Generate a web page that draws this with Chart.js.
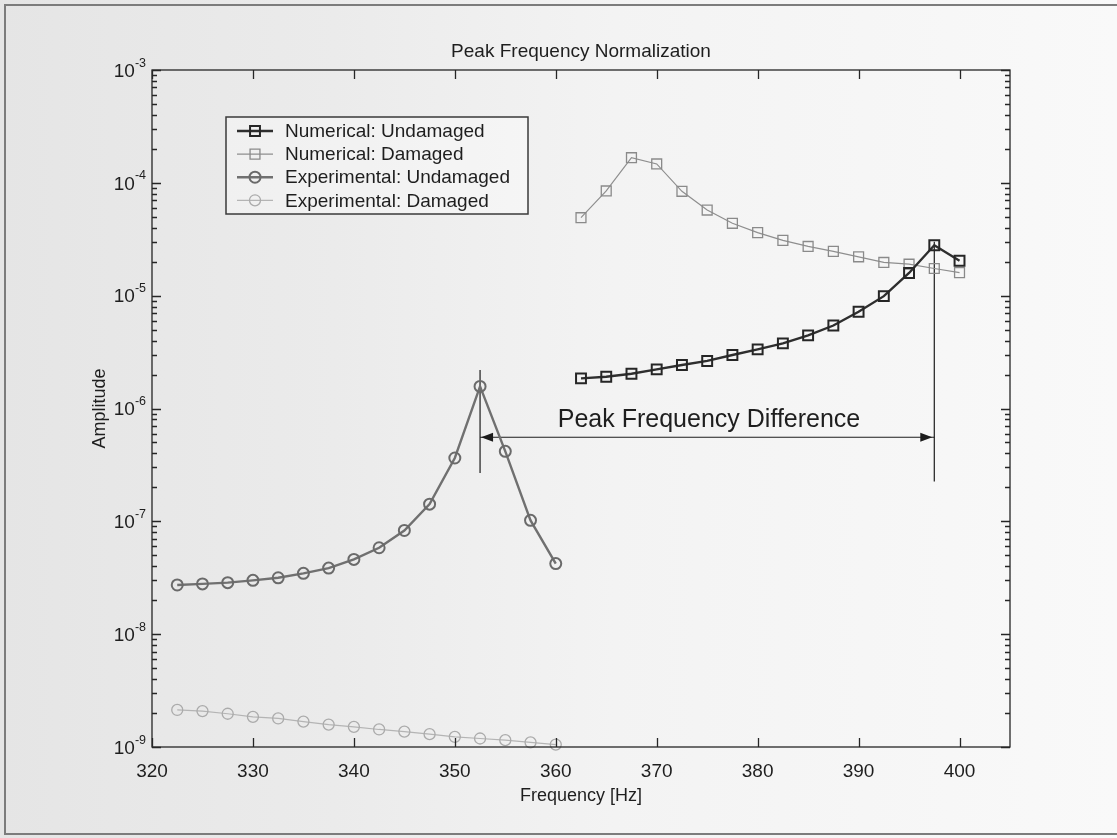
<!DOCTYPE html>
<html>
<head>
<meta charset="utf-8">
<script src="https://cdn.jsdelivr.net/npm/chart.js@4.4.1/dist/chart.umd.min.js"></script>
<style>
  html, body { margin: 0; padding: 0; }
  body {
    width: 1117px; height: 838px; overflow: hidden;
    background: linear-gradient(to right, #e5e5e5 0%, #ebebeb 30%, #f3f3f3 55%, #f9f9f9 100%);
  }
  canvas { display: block; }
</style>
</head>
<body>
<canvas id="c" width="1117" height="838"></canvas>
<script>
// Frequencies of the sampled points [Hz]
const expFreq = [322.5, 325, 327.5, 330, 332.5, 335, 337.5, 340, 342.5, 345, 347.5, 350, 352.5, 355, 357.5, 360];
const numFreq = [362.5, 365, 367.5, 370, 372.5, 375, 377.5, 380, 382.5, 385, 387.5, 390, 392.5, 395, 397.5, 400];

// Amplitudes
const numUndamaged = [1.85e-6, 1.91e-6, 2.03e-6, 2.22e-6, 2.43e-6, 2.64e-6, 2.98e-6, 3.34e-6, 3.78e-6, 4.45e-6, 5.44e-6, 7.21e-6, 9.9e-6, 1.59e-5, 2.8e-5, 2.04e-5];
const numDamaged   = [4.91e-5, 8.47e-5, 1.67e-4, 1.47e-4, 8.41e-5, 5.74e-5, 4.38e-5, 3.62e-5, 3.09e-5, 2.73e-5, 2.47e-5, 2.21e-5, 1.97e-5, 1.9e-5, 1.74e-5, 1.6e-5];
const expUndamaged = [2.73e-8, 2.79e-8, 2.86e-8, 3.0e-8, 3.16e-8, 3.46e-8, 3.85e-8, 4.6e-8, 5.83e-8, 8.3e-8, 1.42e-7, 3.64e-7, 1.57e-6, 4.17e-7, 1.02e-7, 4.22e-8];
const expDamaged   = [2.13e-9, 2.08e-9, 1.97e-9, 1.85e-9, 1.79e-9, 1.68e-9, 1.58e-9, 1.51e-9, 1.43e-9, 1.37e-9, 1.30e-9, 1.23e-9, 1.19e-9, 1.15e-9, 1.10e-9, 1.05e-9];

// Axis ticks
const xTickValues = [320, 330, 340, 350, 360, 370, 380, 390, 400];
const yDecades = [-9, -8, -7, -6, -5, -4, -3];

// Peak markers and the difference arrow (data units)
const peakFreqs = [352.5, 397.5];
const peakTops = [2.19e-6, 3.0e-5];
const peakBottoms = [2.68e-7, 2.25e-7];
const arrowLevel = 5.56e-7;
const noteText = 'Peak Frequency Difference';
const noteFreq = 360.2;
const noteAmp = 6.9e-7;

const FONT = '"Liberation Sans", Arial, Helvetica, sans-serif';
const pts = (xs, ys) => xs.map((x, i) => ({ x: x, y: ys[i] }));

const series = [
  { label: 'Numerical: Undamaged', data: pts(numFreq, numUndamaged), borderColor: '#2e2e2e', borderWidth: 2.4,
    pointStyle: 'rect', pointRadius: 7, pointBorderWidth: 2, pointBorderColor: '#262626' },
  { label: 'Numerical: Damaged', data: pts(numFreq, numDamaged), borderColor: '#8e8e8e', borderWidth: 1.2,
    pointStyle: 'rect', pointRadius: 7, pointBorderWidth: 1.3, pointBorderColor: '#8a8a8a' },
  { label: 'Experimental: Undamaged', data: pts(expFreq, expUndamaged), borderColor: '#707070', borderWidth: 2.4,
    pointStyle: 'circle', pointRadius: 5.5, pointBorderWidth: 2, pointBorderColor: '#6a6a6a' },
  { label: 'Experimental: Damaged', data: pts(expFreq, expDamaged), borderColor: '#b4b4b4', borderWidth: 1.2,
    pointStyle: 'circle', pointRadius: 5.5, pointBorderWidth: 1.3, pointBorderColor: '#ababab' }
].map(d => Object.assign(d, { pointBackgroundColor: 'rgba(0,0,0,0)', fill: false, clip: false, tension: 0 }));

const guides = [
  { label: '', data: [{ x: peakFreqs[0], y: peakTops[0] }, { x: peakFreqs[0], y: peakBottoms[0] }] },
  { label: '', data: [{ x: peakFreqs[1], y: peakTops[1] }, { x: peakFreqs[1], y: peakBottoms[1] }] },
  { label: '', data: [{ x: peakFreqs[0], y: arrowLevel }, { x: peakFreqs[1], y: arrowLevel }] }
].map(d => Object.assign(d, { borderColor: '#1c1c1c', borderWidth: 1.2, pointRadius: 0, fill: false, clip: false, guide: true }));

function drawMarker(ctx, style, cx, cy, r, color, lw) {
  ctx.strokeStyle = color;
  ctx.lineWidth = lw;
  ctx.beginPath();
  if (style === 'rect') {
    const s = Math.SQRT1_2 * r;
    ctx.rect(cx - s, cy - s, 2 * s, 2 * s);
  } else {
    ctx.arc(cx, cy, r, 0, Math.PI * 2);
  }
  ctx.stroke();
}

const decor = {
  id: 'decor',
  beforeDraw(chart) {
    const ctx = chart.ctx;
    ctx.save();
    ctx.strokeStyle = '#7c7c7c';
    ctx.lineWidth = 2;
    ctx.strokeRect(5, 5, 1140, 829);
    ctx.restore();
  },
  afterDraw(chart) {
    const ctx = chart.ctx;
    const a = chart.chartArea;
    const x = chart.scales.x, y = chart.scales.y;
    ctx.save();

    // axes box
    ctx.strokeStyle = '#262626';
    ctx.lineWidth = 1.3;
    ctx.strokeRect(a.left, a.top, a.right - a.left, a.bottom - a.top);

    // inward tick marks
    ctx.beginPath();
    xTickValues.forEach(v => {
      const px = Math.round(x.getPixelForValue(v)) + 0.5;
      ctx.moveTo(px, a.bottom); ctx.lineTo(px, a.bottom - 9);
      ctx.moveTo(px, a.top); ctx.lineTo(px, a.top + 9);
    });
    yDecades.forEach((e, i) => {
      const py = Math.round(y.getPixelForValue(Math.pow(10, e))) + 0.5;
      ctx.moveTo(a.left, py); ctx.lineTo(a.left + 9, py);
      ctx.moveTo(a.right, py); ctx.lineTo(a.right - 9, py);
      if (i < yDecades.length - 1) {
        for (let k = 2; k <= 9; k++) {
          const pm = Math.round(y.getPixelForValue(k * Math.pow(10, e))) + 0.5;
          ctx.moveTo(a.left, pm); ctx.lineTo(a.left + 5, pm);
          ctx.moveTo(a.right, pm); ctx.lineTo(a.right - 5, pm);
        }
      }
    });
    ctx.stroke();

    // y tick labels: 10 with superscript exponent
    ctx.fillStyle = '#1e1e1e';
    ctx.textAlign = 'left';
    ctx.textBaseline = 'alphabetic';
    yDecades.forEach(e => {
      const py = y.getPixelForValue(Math.pow(10, e));
      const sup = String(e);
      ctx.font = '12.5px ' + FONT;
      const supW = ctx.measureText(sup).width;
      ctx.font = '19px ' + FONT;
      const baseW = ctx.measureText('10').width;
      const right = a.left - 6;
      ctx.fillText('10', right - supW - baseW, py + 6.8);
      ctx.font = '12.5px ' + FONT;
      ctx.fillText(sup, right - supW, py - 3.5);
    });

    // axis titles
    ctx.font = '18px ' + FONT;
    ctx.textAlign = 'center';
    ctx.textBaseline = 'middle';
    ctx.fillText('Frequency [Hz]', (a.left + a.right) / 2, 796);
    ctx.save();
    ctx.translate(100, (a.top + a.bottom) / 2);
    ctx.rotate(-Math.PI / 2);
    ctx.fillText('Amplitude', 0, 0);
    ctx.restore();

    // arrow heads on the difference line
    const ya = y.getPixelForValue(arrowLevel);
    const xl = x.getPixelForValue(peakFreqs[0]);
    const xr = x.getPixelForValue(peakFreqs[1]) - 2;
    ctx.fillStyle = '#1c1c1c';
    ctx.beginPath();
    ctx.moveTo(xl + 1, ya); ctx.lineTo(xl + 13, ya - 4.5); ctx.lineTo(xl + 13, ya + 4.5); ctx.closePath();
    ctx.moveTo(xr, ya); ctx.lineTo(xr - 12, ya - 4.5); ctx.lineTo(xr - 12, ya + 4.5); ctx.closePath();
    ctx.fill();

    // annotation text
    ctx.font = '25px ' + FONT;
    ctx.textAlign = 'left';
    ctx.textBaseline = 'alphabetic';
    ctx.fillStyle = '#1e1e1e';
    ctx.fillText(noteText, x.getPixelForValue(noteFreq), y.getPixelForValue(noteAmp));

    // legend
    const lx = 226, ly = 117, lw = 302, lh = 97;
    ctx.fillStyle = 'rgba(255,255,255,0.35)';
    ctx.fillRect(lx, ly, lw, lh);
    ctx.strokeStyle = '#3a3a3a';
    ctx.lineWidth = 1.5;
    ctx.strokeRect(lx, ly, lw, lh);
    chart.data.datasets.filter(d => !d.guide).forEach((d, i) => {
      const ry = ly + 14 + i * 23.1;
      ctx.strokeStyle = d.borderColor;
      ctx.lineWidth = d.borderWidth;
      ctx.beginPath();
      ctx.moveTo(lx + 11, ry); ctx.lineTo(lx + 47, ry);
      ctx.stroke();
      drawMarker(ctx, d.pointStyle, lx + 29, ry, d.pointRadius, d.pointBorderColor, d.pointBorderWidth);
      ctx.fillStyle = '#1e1e1e';
      ctx.font = '19px ' + FONT;
      ctx.textBaseline = 'middle';
      ctx.fillText(d.label, lx + 59, ry + 1);
    });

    ctx.restore();
  }
};

new Chart(document.getElementById('c'), {
  type: 'line',
  data: { datasets: series.concat(guides) },
  plugins: [decor],
  options: {
    responsive: false,
    animation: false,
    layout: { padding: { left: 152, right: 107, top: 0, bottom: 0 } },
    plugins: {
      legend: { display: false },
      tooltip: { enabled: false },
      title: {
        display: true,
        text: 'Peak Frequency Normalization',
        color: '#1e1e1e',
        font: { family: FONT, size: 19, weight: 'normal', lineHeight: 1.2 },
        padding: { top: 40, bottom: 7.2 }
      }
    },
    scales: {
      x: {
        type: 'linear',
        min: 320,
        max: 405,
        grid: { display: false },
        border: { display: false },
        afterBuildTicks: s => { s.ticks = xTickValues.map(v => ({ value: v })); },
        afterFit: s => { s.height = 91; },
        ticks: { color: '#1e1e1e', font: { family: FONT, size: 19 }, padding: 5, maxRotation: 0 }
      },
      y: {
        type: 'logarithmic',
        min: 1e-9,
        max: 1e-3,
        grid: { display: false },
        border: { display: false },
        ticks: { display: false },
        afterFit: s => { s.width = 0; }
      }
    }
  }
});
</script>
</body>
</html>
